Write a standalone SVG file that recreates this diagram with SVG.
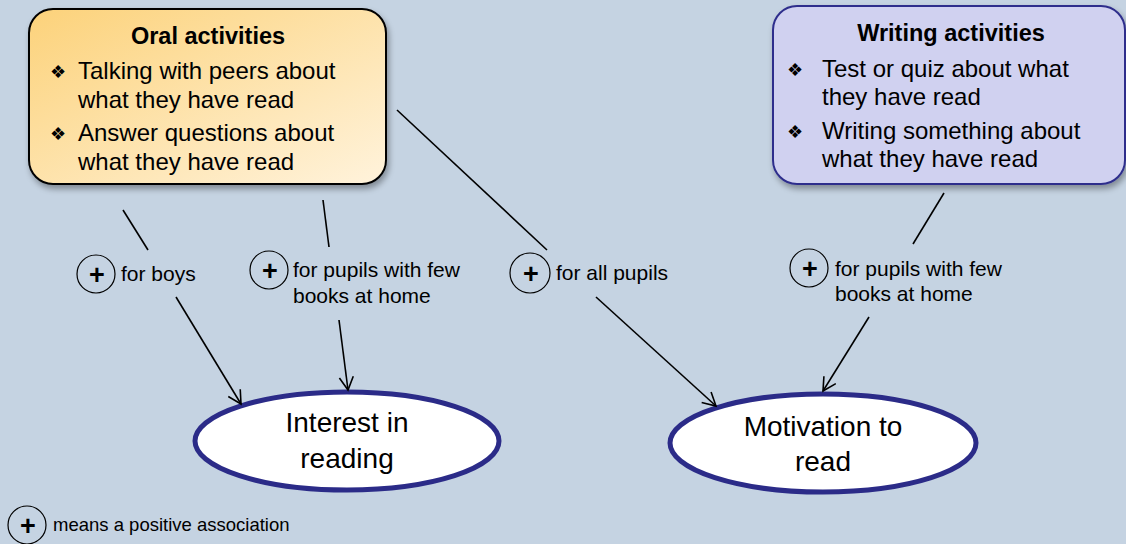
<svg xmlns="http://www.w3.org/2000/svg" width="1126" height="544" viewBox="0 0 1126 544">
<defs>
<linearGradient id="gOral" x1="0" y1="0" x2="1" y2="1">
<stop offset="0" stop-color="#FCD27A"/>
<stop offset="1" stop-color="#FFF3DC"/>
</linearGradient>
<filter id="sh" x="-10%" y="-10%" width="130%" height="130%">
<feGaussianBlur in="SourceAlpha" stdDeviation="3"/>
<feOffset dx="2" dy="4"/>
<feComponentTransfer><feFuncA type="linear" slope="0.35"/></feComponentTransfer>
<feMerge><feMergeNode/><feMergeNode in="SourceGraphic"/></feMerge>
</filter>
<marker id="arr" markerWidth="16" markerHeight="16" refX="14" refY="8" orient="auto" markerUnits="userSpaceOnUse">
<path d="M1,1 L14,8 L1,15" fill="none" stroke="#000" stroke-width="1.6"/>
</marker>
</defs>
<style>
text{font-family:"Liberation Sans",Arial,sans-serif;fill:#000}
.title{font-size:23.5px;font-weight:bold;text-anchor:middle}
.item{font-size:24px}
.bul{font-size:18px}
.lbl{font-size:21px}
.ell{font-size:28px;text-anchor:middle}
.plus{font-size:27px;font-weight:bold;text-anchor:middle}
.pc{fill:none;stroke:#000;stroke-width:1.2}
.ln{stroke:#000;stroke-width:1.6;fill:none}
.oval{fill:#fff;stroke:#2B2B88;stroke-width:5}
</style>
<rect x="0" y="0" width="1126" height="544" fill="#C5D3E2"/>

<g id="oral">
<rect x="29" y="9" width="357" height="175" rx="24" fill="url(#gOral)" stroke="#000" stroke-width="2" filter="url(#sh)"/>
<text class="title" x="208" y="44">Oral activities</text>
<text class="bul" x="50" y="78">❖</text>
<text class="item" x="78" y="79">Talking with peers about</text>
<text class="item" x="78" y="108">what they have read</text>
<text class="bul" x="50" y="140">❖</text>
<text class="item" x="78" y="141">Answer questions about</text>
<text class="item" x="78" y="170">what they have read</text>
</g>

<g id="writing">
<rect x="773" y="6" width="352" height="178" rx="24" fill="#D0D1F0" stroke="#2E2E8C" stroke-width="2" filter="url(#sh)"/>
<text class="title" x="951" y="41">Writing activities</text>
<text class="bul" x="787" y="76">❖</text>
<text class="item" x="822" y="77">Test or quiz about what</text>
<text class="item" x="822" y="105">they have read</text>
<text class="bul" x="787" y="138">❖</text>
<text class="item" x="822" y="139">Writing something about</text>
<text class="item" x="822" y="167">what they have read</text>
</g>

<g id="interest">
<ellipse class="oval" cx="347" cy="441" rx="152" ry="49"/>
<text class="ell" x="347" y="432">Interest in</text>
<text class="ell" x="347" y="468">reading</text>
</g>

<g id="motivation">
<ellipse class="oval" cx="823" cy="443" rx="153" ry="49"/>
<text class="ell" x="823" y="436">Motivation to</text>
<text class="ell" x="823" y="471">read</text>
</g>

<g id="connectors">
<line class="ln" x1="123" y1="210" x2="148" y2="250"/>
<line class="ln" x1="176" y1="297" x2="241" y2="404" marker-end="url(#arr)"/>
<line class="ln" x1="323" y1="200" x2="329" y2="247"/>
<line class="ln" x1="339" y1="320" x2="348" y2="390" marker-end="url(#arr)"/>
<line class="ln" x1="397" y1="110" x2="547" y2="250"/>
<line class="ln" x1="596" y1="297" x2="716" y2="406" marker-end="url(#arr)"/>
<line class="ln" x1="944" y1="193" x2="913" y2="244"/>
<line class="ln" x1="869" y1="317" x2="823" y2="391" marker-end="url(#arr)"/>
</g>

<g id="label-boys">
<circle class="pc" cx="96" cy="274" r="19"/>
<text class="plus" x="97" y="284">+</text>
<text class="lbl" x="121" y="281">for boys</text>
</g>
<g id="label-fewbooks-1">
<circle class="pc" cx="269" cy="270" r="19"/>
<text class="plus" x="270" y="280">+</text>
<text class="lbl" x="293" y="277">for pupils with few</text>
<text class="lbl" x="293" y="303">books at home</text>
</g>
<g id="label-all">
<circle class="pc" cx="530" cy="273" r="20"/>
<text class="plus" x="531" y="283">+</text>
<text class="lbl" x="556" y="280">for all pupils</text>
</g>
<g id="label-fewbooks-2">
<circle class="pc" cx="809" cy="268" r="19"/>
<text class="plus" x="810" y="278">+</text>
<text class="lbl" x="835" y="276">for pupils with few</text>
<text class="lbl" x="835" y="301">books at home</text>
</g>

<g id="legend">
<circle class="pc" cx="27" cy="525" r="19"/>
<text class="plus" x="28" y="535">+</text>
<text x="53" y="531" font-size="18.5px">means a positive association</text>
</g>
</svg>
